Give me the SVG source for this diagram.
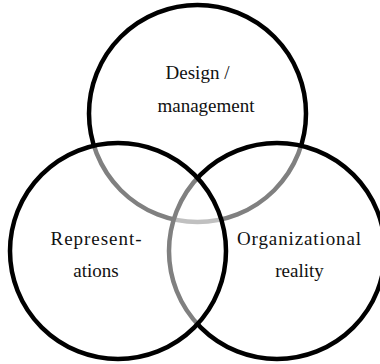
<svg xmlns="http://www.w3.org/2000/svg" width="380" height="364" viewBox="0 0 380 364">
<style>
.c{fill:#fff;fill-opacity:0.5;stroke:#000;stroke-width:4.5}
.t{font-family:"Liberation Serif","Times New Roman",serif;font-size:19px;fill:#111;text-anchor:middle}
</style>
<rect width="380" height="364" fill="#fff"/>
<g id="design">
<circle class="c" cx="197.5" cy="113.5" r="108.5"/>
<text class="t" x="197.5" y="79">Design /</text>
<text class="t" x="206" y="112">management</text>
</g>
<g id="reality">
<circle class="c" cx="277" cy="251" r="108"/>
<text class="t" x="299" y="244.5" textLength="124" lengthAdjust="spacing">Organizational</text>
<text class="t" x="299.5" y="276.5">reality</text>
</g>
<g id="representations">
<circle class="c" cx="118" cy="251" r="108"/>
<text class="t" x="96" y="244.5" textLength="91" lengthAdjust="spacing">Represent-</text>
<text class="t" x="96" y="276.5">ations</text>
</g>
<g id="connectors"/>
</svg>
